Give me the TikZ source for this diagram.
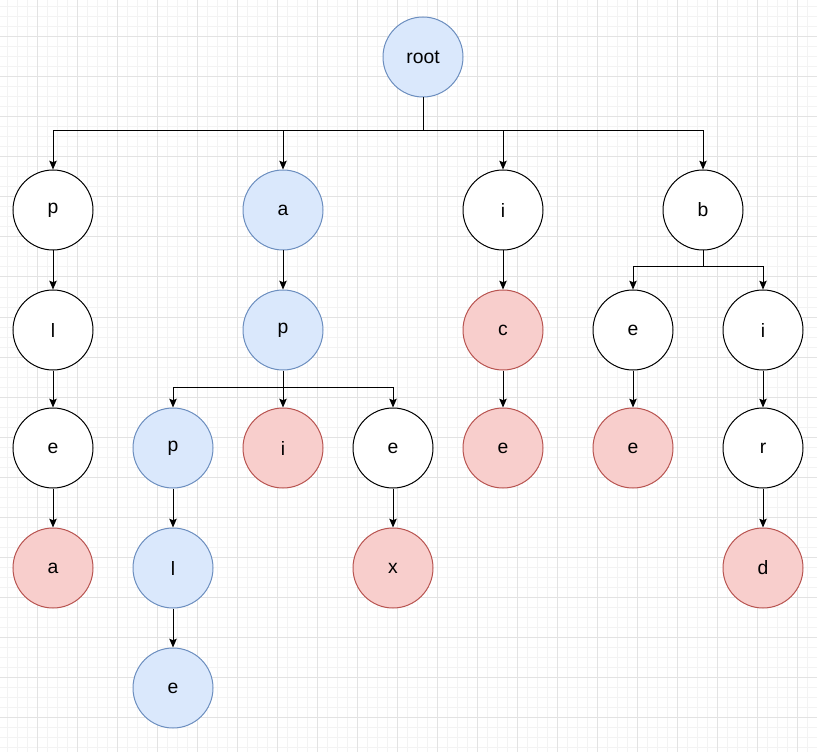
\documentclass[tikz,border=0pt]{standalone}
\usepackage{fontspec}
\setmainfont{Liberation Sans}
\usetikzlibrary{arrows.meta}
\definecolor{bfill}{HTML}{DAE8FC}
\definecolor{bline}{HTML}{6C8EBF}
\definecolor{rfill}{HTML}{F8CECC}
\definecolor{rline}{HTML}{B85450}
\definecolor{gminor}{HTML}{F3F3F3}
\definecolor{gmajor}{HTML}{E3E3E3}
\tikzset{
  nd/.style={circle, draw=black, fill=white, line width=0.75pt, minimum size=60pt, inner sep=0pt, font=\fontsize{14.5}{16}\selectfont},
  bnd/.style={nd, draw=bline, fill=bfill},
  rnd/.style={nd, draw=rline, fill=rfill},
  ln/.style={line width=0.75pt, draw=black},
  arr/.style={ln, -{Stealth[length=6.5pt, width=5.5pt, inset=1pt]}},
}
\begin{document}
\begin{tikzpicture}[x=0.75pt, y=-0.75pt]
\useasboundingbox (0,0) rectangle (817,752);
\fill[white] (0,0) rectangle (817,752);
\foreach \i in {0,...,81} {\draw[gminor, line width=0.75pt] (7+10*\i,0) -- (7+10*\i,752);}
\foreach \i in {0,...,75} {\draw[gminor, line width=0.75pt] (0,7+10*\i) -- (817,7+10*\i);}
\foreach \i in {0,...,20} {\draw[gmajor, line width=0.75pt] (37+40*\i,0) -- (37+40*\i,752);}
\foreach \i in {0,...,18} {\draw[gmajor, line width=0.75pt] (0,37+40*\i) -- (817,37+40*\i);}

\node[bnd] (root) at (423,57) {root};
% column p
\node[nd] (p1) at (53,210) {p};
\node[nd] (l1) at (53,330) {l};
\node[nd] (e1) at (53,448) {e};
\node[rnd] (a1) at (53,568) {a};
% column a
\node[bnd] (a2) at (283,210) {a};
\node[bnd] (p2) at (283,330) {p};
\node[bnd] (p3) at (173,448) {p};
\node[bnd] (l3) at (173,568) {l};
\node[bnd] (e3) at (173,688) {e};
\node[rnd] (i3) at (283,448) {i};
\node[nd] (e4) at (393,448) {e};
\node[rnd] (x4) at (393,568) {x};
% column i
\node[nd] (i5) at (503,210) {i};
\node[rnd] (c5) at (503,330) {c};
\node[rnd] (e5) at (503,448) {e};
% column b
\node[nd] (b6) at (703,210) {b};
\node[nd] (e6) at (633,330) {e};
\node[rnd] (e7) at (633,448) {e};
\node[nd] (i6) at (763,330) {i};
\node[nd] (r6) at (763,448) {r};
\node[rnd] (d6) at (763,568) {d};

\coordinate (j0) at (423,131);
\draw[ln] (root.south) -- (j0);
\draw[arr] (j0) -| (p1.north);
\draw[arr] (j0) -| (a2.north);
\draw[arr] (j0) -| (i5.north);
\draw[arr] (j0) -| (b6.north);

\draw[arr] (p1) -- (l1);
\draw[arr] (l1) -- (e1);
\draw[arr] (e1) -- (a1);

\draw[arr] (a2) -- (p2);
\coordinate (j1) at (283,387);
\draw[ln] (p2.south) -- (j1);
\draw[arr] (j1) -| (p3.north);
\draw[arr] (j1) -- (i3.north);
\draw[arr] (j1) -| (e4.north);
\draw[arr] (p3) -- (l3);
\draw[arr] (l3) -- (e3);
\draw[arr] (e4) -- (x4);

\draw[arr] (i5) -- (c5);
\draw[arr] (c5) -- (e5);

\coordinate (j2) at (703,267);
\draw[ln] (b6.south) -- (j2);
\draw[arr] (j2) -| (e6.north);
\draw[arr] (j2) -| (i6.north);
\draw[arr] (e6) -- (e7);
\draw[arr] (i6) -- (r6);
\draw[arr] (r6) -- (d6);
\end{tikzpicture}
\end{document}
